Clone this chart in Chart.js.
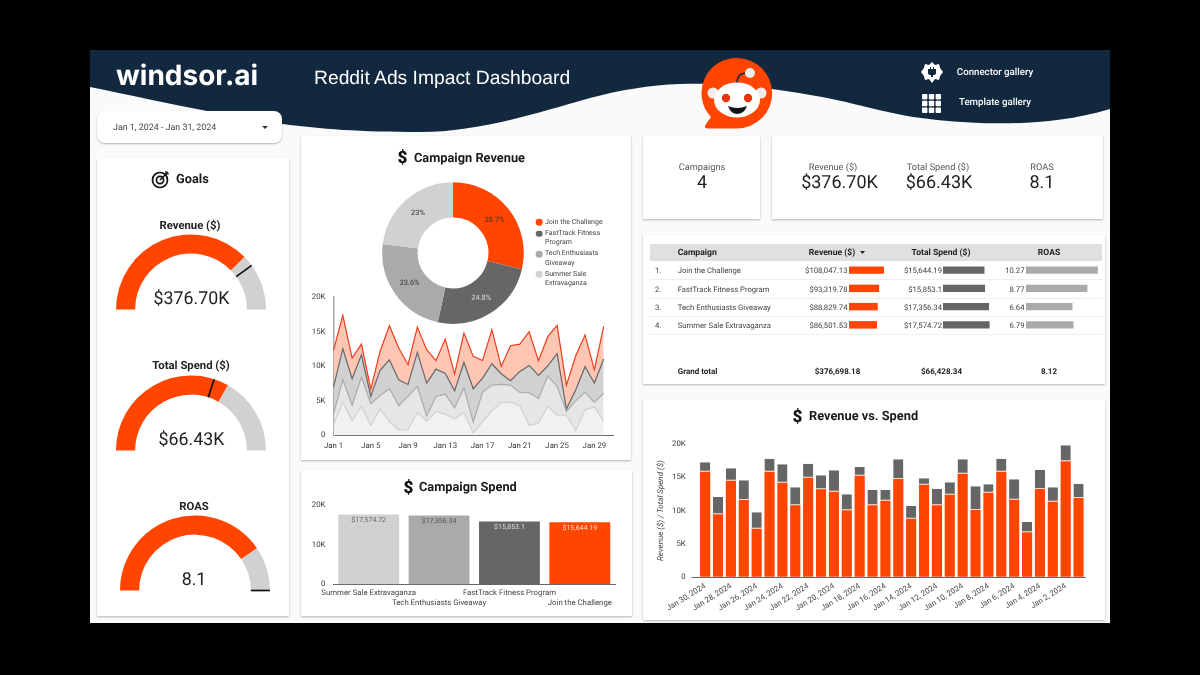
<!DOCTYPE html>
<html>
<head>
<meta charset="utf-8">
<title>Reddit Ads Impact Dashboard</title>
<script src="https://cdn.jsdelivr.net/npm/chart.js@4/dist/chart.umd.min.js"></script>
<style>
  html, body { margin: 0; padding: 0; width: 1200px; height: 675px; background: #000; overflow: hidden; font-family: Roboto, sans-serif; text-rendering: geometricPrecision; }
  #dash { position: absolute; left: 90px; top: 50px; width: 1020px; height: 573px; background: #fafafa; overflow: hidden; }
  #wave { position: absolute; left: 0; top: 0; }
  .layer { position: absolute; left: 0; top: 0; width: 1200px; height: 675px; will-change: transform; }
  .card { position: absolute; background: #fff; box-shadow: 0 1px 2px rgba(0,0,0,.28); }
  canvas { position: absolute; }
  .t { position: absolute; white-space: nowrap; color: #222; transform: translate(-50%, calc(-50% + .7px)); line-height: 1; }
  .l { transform: translate(0, calc(-50% + .7px)); }
  .r { transform: translate(-100%, calc(-50% + .7px)); }
  .title { font-size: 12.8px; font-weight: 700; color: #1a1a1a; }
  .dollar { font-size: 17px; font-weight: 900; color: #111; }
  .kpil { font-size: 9.2px; color: #555; }
  .kpiv { font-size: 18px; color: #222; }
  .gl { font-size: 11.3px; font-weight: 700; color: #222; }
  .gv { font-size: 17.8px; color: #222; }
  .cell { font-size: 7.7px; color: #444; }
  .head { font-size: 8.6px; font-weight: 700; color: #222; }
  .total { font-size: 8px; font-weight: 700; color: #222; }
  .rowline { position: absolute; left: 650px; width: 452px; height: 1px; background: #eee; }
  .dot { position: absolute; width: 6.7px; height: 6.7px; border-radius: 50%; transform: translate(-50%, -50%); }
  .leg { font-size: 7px; color: #444; line-height: 9.2px; white-space: normal; transform: translate(0, 0); width: 70px; }
</style>
</head>
<body>
<div id="dash">
  <svg id="wave" width="1020" height="100" viewBox="90 50 1020 100">
    <path fill="#12283f" d="M90,50 H1110 V109 C1060,124 1010,124 980,123 C955,122 935,120 913,117 C890,113 870,108 846,102 C825,97 800,93 772,89 C745,85 715,83 680,84 C650,85 620,90 590,98 C540,112 480,132 420,132 C360,132 320,129 283,124 C260,121 240,116 207,111 C170,104 130,95 90,87 Z"/>
  </svg>
</div>
<div class="layer" id="page">
  <!-- header -->
  <div class="t l" style="left:116px;top:73.5px;font:700 28px Inter,sans-serif;color:#fff">windsor.ai</div>
  <div class="t l" style="left:314px;top:77.5px;font:19.3px 'Liberation Sans',sans-serif;color:#fff">Reddit Ads Impact Dashboard</div>
  <svg style="position:absolute;left:695px;top:52px" width="85" height="82" viewBox="695 52 85 82">
    <path fill="#ff4500" d="M737,58 A35,35 0 0 1 737,128.4 H708 Q703,128.4 706,124 L711,117 A35,35 0 0 1 737,58 Z"/>
    <path fill="none" stroke="#12283f" stroke-width="1.4" d="M737,83 C737,76 741,73 747,73"/>
    <circle cx="750" cy="73" r="5" fill="#f4ece8"/>
    <circle cx="713" cy="93" r="5.5" fill="#f4ece8"/>
    <circle cx="761" cy="93" r="5.5" fill="#f4ece8"/>
    <ellipse cx="737" cy="100" rx="23" ry="17.5" fill="#fff"/>
    <circle cx="726" cy="98" r="4.2" fill="#e8340a"/>
    <circle cx="748" cy="98" r="4.2" fill="#e8340a"/>
    <path fill="#12141a" d="M728,106 Q737,110 747,106 Q744,114 737,114 Q731,114 728,106 Z"/>
  </svg>
  <svg style="position:absolute;left:920px;top:62px" width="24" height="22" viewBox="0 0 24 22">
    <path fill="#fff" d="M12,0 L15,3 L19,2 L20,6 L23,10 L20,14 L19,18 L15,17 L12,21 L9,17 L5,18 L4,14 L1,10 L4,6 L5,2 L9,3 Z"/>
    <path fill="#12283f" d="M8,7 H10 V5 H11 V7 H13 V5 H14 V7 H16 V11 Q16,13 13,13 V15 H11 V13 Q8,13 8,11 Z"/>
  </svg>
  <svg style="position:absolute;left:922px;top:94px" width="19" height="19" viewBox="0 0 19 19" fill="#fff">
    <rect x="0" y="0" width="5.4" height="5.4" rx=".8"/><rect x="6.8" y="0" width="5.4" height="5.4" rx=".8"/><rect x="13.6" y="0" width="5.4" height="5.4" rx=".8"/>
    <rect x="0" y="6.8" width="5.4" height="5.4" rx=".8"/><rect x="6.8" y="6.8" width="5.4" height="5.4" rx=".8"/><rect x="13.6" y="6.8" width="5.4" height="5.4" rx=".8"/>
    <rect x="0" y="13.6" width="5.4" height="5.4" rx=".8"/><rect x="6.8" y="13.6" width="5.4" height="5.4" rx=".8"/><rect x="13.6" y="13.6" width="5.4" height="5.4" rx=".8"/>
  </svg>
  <div class="t" style="left:995px;top:72px;font-size:9.7px;font-weight:500;color:#fff">Connector gallery</div>
  <div class="t" style="left:995px;top:102px;font-size:9.7px;font-weight:500;color:#fff">Template gallery</div>

  <!-- cards -->
  <div class="card" style="left:97px;top:111px;width:185px;height:32px;border-radius:8px"></div>
  <div class="card" style="left:97px;top:158px;width:192px;height:458px"></div>
  <div class="card" style="left:301px;top:136px;width:330px;height:324px"></div>
  <div class="card" style="left:301px;top:470px;width:331px;height:146px"></div>
  <div class="card" style="left:643px;top:136px;width:117px;height:83px"></div>
  <div class="card" style="left:772px;top:136px;width:331px;height:83px"></div>
  <div class="card" style="left:643px;top:235px;width:462px;height:149px"></div>
  <div class="card" style="left:643px;top:399px;width:462px;height:221px"></div>

  <div class="t l" style="left:113px;top:127.5px;font-size:8.9px;color:#444">Jan 1, 2024 - Jan 31, 2024</div>
  <svg style="position:absolute;left:262px;top:126px" width="6" height="4"><path d="M0,0 H6 L3,3 Z" fill="#333"/></svg>

  <!-- goals column -->
  <svg style="position:absolute;left:151px;top:170px" width="19" height="19" viewBox="0 0 19 19" fill="none" stroke="#111" stroke-width="1.7">
    <circle cx="9" cy="10" r="7.5"/><circle cx="9" cy="10" r="3.6"/><path d="M9,10 L17,2" stroke-width="1.6"/><path d="M15,1 L15,4 L18,4" stroke-width="1.2"/>
  </svg>
  <div class="t l title" style="left:176px;top:179.5px">Goals</div>
  <div class="t gl" style="left:190px;top:224.5px">Revenue ($)</div>
  <div class="t gl" style="left:191px;top:365px">Total Spend ($)</div>
  <div class="t gl" style="left:194px;top:505.5px">ROAS</div>
  <div class="t gv" style="left:191.5px;top:298px">$376.70K</div>
  <div class="t gv" style="left:191.5px;top:439px">$66.43K</div>
  <div class="t gv" style="left:194px;top:579px">8.1</div>
  <canvas id="gauge0" width="160" height="84" style="left:111px;top:230px"></canvas>
  <canvas id="gauge1" width="160" height="84" style="left:111px;top:371px"></canvas>
  <canvas id="gauge2" width="160" height="84" style="left:115px;top:511px"></canvas>

  <!-- campaign revenue -->
  <div class="t dollar" style="left:402.5px;top:158px">$</div>
  <div class="t l title" style="left:414px;top:158.5px">Campaign Revenue</div>
  <canvas id="pie" width="146" height="146" style="left:380px;top:180px"></canvas>
  <div id="legend"></div>
  <canvas id="area" width="330" height="170" style="left:301px;top:285px"></canvas>

  <!-- campaign spend -->
  <div class="t dollar" style="left:408.5px;top:488px">$</div>
  <div class="t l title" style="left:419px;top:487.5px">Campaign Spend</div>
  <canvas id="spend" width="330" height="146" style="left:301px;top:470px"></canvas>

  <!-- kpis -->
  <div class="t kpil" style="left:702px;top:166.5px">Campaigns</div>
  <div class="t kpiv" style="left:702px;top:182px">4</div>
  <div class="t kpil" style="left:833px;top:166.5px">Revenue ($)</div>
  <div class="t kpiv" style="left:839.5px;top:182px">$376.70K</div>
  <div class="t kpil" style="left:938px;top:166.5px">Total Spend ($)</div>
  <div class="t kpiv" style="left:939px;top:182px">$66.43K</div>
  <div class="t kpil" style="left:1042px;top:166.5px">ROAS</div>
  <div class="t kpiv" style="left:1042px;top:182px">8.1</div>

  <!-- table -->
  <div style="position:absolute;left:650px;top:244px;width:452px;height:17px;background:#e0e0e0"></div>
  <div class="t l head" style="left:677.7px;top:252.5px">Campaign</div>
  <div class="t head" style="left:832px;top:252.5px">Revenue ($)</div>
  <svg style="position:absolute;left:860px;top:251px" width="5" height="3"><path d="M0,0 H5 L2.5,3 Z" fill="#222"/></svg>
  <div class="t head" style="left:941px;top:252.5px">Total Spend ($)</div>
  <div class="t head" style="left:1049px;top:252.5px">ROAS</div>
  <div id="rows"></div>
  <div class="t l total" style="left:677.7px;top:370.5px">Grand total</div>
  <div class="t total" style="left:837.5px;top:370.5px">$376,698.18</div>
  <div class="t total" style="left:941.5px;top:370.5px">$66,428.34</div>
  <div class="t total" style="left:1049px;top:370.5px">8.12</div>
  <canvas id="tblRev" width="36" height="73" style="left:849px;top:261px"></canvas>
  <canvas id="tblSpend" width="48" height="73" style="left:943px;top:261px"></canvas>
  <canvas id="tblRoas" width="74" height="73" style="left:1026px;top:261px"></canvas>

  <!-- revenue vs spend -->
  <div class="t dollar" style="left:797.5px;top:417px">$</div>
  <div class="t l title" style="left:809px;top:417px">Revenue vs. Spend</div>
  <canvas id="stack" width="460" height="190" style="left:645px;top:430px"></canvas>
</div>

<script>
// campaign totals
const campaignNames = ["Join the Challenge", "FastTrack Fitness Program", "Tech Enthusiasts Giveaway", "Summer Sale Extravaganza"];
const revenueTotals = [108047.13, 93319.78, 88829.74, 86501.53];
const spendTotals = [15644.19, 15853.1, 17356.34, 17574.72];
const roasValues = [10.27, 8.77, 6.64, 6.79];
const campaignColors = ["#ff4500", "#666666", "#aaaaaa", "#d1d1d1"];

// gauges: revenue, total spend, roas
const gaugeValues = [376.7, 66.43, 8.1];
const gaugeTargets = [400, 60, 10];
const gaugeMaxes = [500, 100, 10];

// daily revenue per campaign, Jan 1 - Jan 30
const dayLabels = ["Jan 1","Jan 2","Jan 3","Jan 4","Jan 5","Jan 6","Jan 7","Jan 8","Jan 9","Jan 10","Jan 11","Jan 12","Jan 13","Jan 14","Jan 15","Jan 16","Jan 17","Jan 18","Jan 19","Jan 20","Jan 21","Jan 22","Jan 23","Jan 24","Jan 25","Jan 26","Jan 27","Jan 28","Jan 29","Jan 30","Jan 31"];
const summerDaily = [1540,4820,2170,4190,1450,3810,2020,820,820,3330,2020,3470,3080,2410,3330,340,2020,3570,4770,4820,4290,1450,1780,4190,2990,2890,720,3710,4140,2120];
const techDaily = [1540,3230,2170,4240,3130,1970,4730,3520,4820,3750,820,2170,2900,1590,3510,1590,4250,3710,2600,2460,1930,4720,3570,4390,4090,580,4290,2510,630,4000];
const fastTrackDaily = [3910,4480,3850,3230,1060,3620,4190,3710,1730,4920,4730,3950,2980,2460,3710,4820,2020,3080,1550,620,3030,3950,3320,1490,4730,340,1590,3710,2800,4920];
const joinDaily = [5300,4820,2990,1540,1060,2740,4920,4580,2850,3660,4820,1210,4970,2410,4250,4670,2550,4920,1060,5060,3950,4870,2130,4200,4090,3470,4920,4580,1920,4720];

// revenue vs spend per day, newest first
const stackLabels = ["Jan 30, 2024","Jan 29, 2024","Jan 28, 2024","Jan 27, 2024","Jan 26, 2024","Jan 25, 2024","Jan 24, 2024","Jan 23, 2024","Jan 22, 2024","Jan 21, 2024","Jan 20, 2024","Jan 19, 2024","Jan 18, 2024","Jan 17, 2024","Jan 16, 2024","Jan 15, 2024","Jan 14, 2024","Jan 13, 2024","Jan 12, 2024","Jan 11, 2024","Jan 10, 2024","Jan 9, 2024","Jan 8, 2024","Jan 7, 2024","Jan 6, 2024","Jan 5, 2024","Jan 4, 2024","Jan 3, 2024","Jan 2, 2024","Jan 1, 2024"];
const dailyRevenue = [15850,9450,14500,11600,7300,15850,14200,10800,14950,13200,12850,10050,15250,10800,11500,14750,8800,13900,10800,12400,15550,10100,12700,15850,11650,6750,13250,11350,17400,11900];
const dailySpend = [1400,2600,1850,2950,2450,1950,2750,2700,2100,2100,3200,2400,1300,2300,1600,2950,1900,950,2500,1850,2150,3550,1250,1950,3050,1550,2900,2150,2400,2150];

const tickFont = { family: "Roboto", size: 7.8, lineHeight: 1.3 };
const kLabel = (v) => (v === 0 ? "0" : v / 1000 + "K");

// canvas text should space like the html text does
Chart.register({
  id: "preciseText",
  beforeDraw(chart) { chart.ctx.textRendering = "geometricPrecision"; },
});

// legend and table rows, built from the arrays
const legendTops = [217.7, 229, 249.4, 269.7];
document.getElementById("legend").innerHTML = campaignNames.map((name, i) =>
  `<div class="dot" style="left:539.3px;top:${legendTops[i] + 4.6}px;background:${campaignColors[i]}"></div>` +
  `<div class="t leg" style="left:545px;top:${legendTops[i]}px">${name}</div>`
).join("");

document.getElementById("rows").innerHTML = campaignNames.map((name, i) => {
  const y = 270.2 + i * 18.3;
  return `<div class="t l cell" style="left:655px;top:${y}px">${i + 1}.</div>` +
    `<div class="t l cell" style="left:677.7px;top:${y}px">${name}</div>` +
    `<div class="t r cell" style="left:847.5px;top:${y}px">$${revenueTotals[i].toLocaleString("en-US", { maximumFractionDigits: 2 })}</div>` +
    `<div class="t r cell" style="left:942px;top:${y}px">$${spendTotals[i].toLocaleString("en-US", { maximumFractionDigits: 2 })}</div>` +
    `<div class="t r cell" style="left:1024.5px;top:${y}px">${roasValues[i]}</div>` +
    `<div class="rowline" style="top:${y + 9}px"></div>`;
}).join("");

// gauges
gaugeValues.forEach((value, i) => {
  const targetTick = {
    id: "targetTick",
    afterDraw(chart) {
      const arc = chart.getDatasetMeta(0).data[0];
      const angle = Math.PI + Math.PI * (gaugeTargets[i] / gaugeMaxes[i]);
      const ctx = chart.ctx;
      ctx.save();
      ctx.strokeStyle = "#111";
      ctx.lineWidth = 1.7;
      ctx.beginPath();
      ctx.moveTo(arc.x + Math.cos(angle) * arc.innerRadius, arc.y + Math.sin(angle) * arc.innerRadius);
      ctx.lineTo(arc.x + Math.cos(angle) * arc.outerRadius, arc.y + Math.sin(angle) * arc.outerRadius);
      ctx.stroke();
      ctx.restore();
    },
  };
  new Chart(document.getElementById("gauge" + i), {
    type: "doughnut",
    data: {
      datasets: [{ data: [value, gaugeMaxes[i] - value], backgroundColor: ["#ff4500", "#d1d1d1"], borderWidth: 0 }],
    },
    options: {
      responsive: false,
      animation: false,
      rotation: -90,
      circumference: 180,
      cutout: "74.5%",
      layout: { padding: { left: 5, right: 5, top: 4, bottom: 4 } },
      plugins: { legend: { display: false }, tooltip: { enabled: false } },
    },
    plugins: [targetTick],
  });
});

// revenue share donut
const sliceLabels = {
  id: "sliceLabels",
  afterDraw(chart) {
    const total = revenueTotals.reduce((a, b) => a + b, 0);
    const ctx = chart.ctx;
    ctx.save();
    ctx.font = "7.4px Roboto";
    ctx.textAlign = "center";
    ctx.textBaseline = "middle";
    chart.getDatasetMeta(0).data.forEach((arc, i) => {
      const p = arc.getCenterPoint();
      const pct = (revenueTotals[i] / total * 100).toFixed(1).replace(".0", "");
      ctx.fillStyle = i === 1 ? "#ddd" : "#333";
      ctx.fillText(pct + "%", p.x, p.y);
    });
    ctx.restore();
  },
};
new Chart(document.getElementById("pie"), {
  type: "doughnut",
  data: {
    labels: campaignNames,
    datasets: [{ data: revenueTotals, backgroundColor: campaignColors, borderWidth: 0 }],
  },
  options: {
    responsive: false,
    animation: false,
    cutout: "50%",
    layout: { padding: 2.2 },
    plugins: { legend: { display: false }, tooltip: { enabled: false } },
  },
  plugins: [sliceLabels],
});

// stacked area, bottom series first
const areaSeries = [
  { data: summerDaily, line: "#d1d1d1", fill: "#f1f1f1", target: "origin" },
  { data: techDaily, line: "#aaaaaa", fill: "#e6e6e6", target: "-1" },
  { data: fastTrackDaily, line: "#666666", fill: "#d1d1d1", target: "-1" },
  { data: joinDaily, line: "#ee3c1c", fill: "#ffc7b3", target: "-1" },
];
new Chart(document.getElementById("area"), {
  type: "line",
  data: {
    labels: dayLabels,
    datasets: areaSeries.map((s) => ({
      data: s.data,
      borderColor: s.line,
      backgroundColor: s.fill,
      fill: s.target,
      borderWidth: 1.2,
      pointRadius: 0,
      tension: 0,
    })),
  },
  options: {
    responsive: false,
    animation: false,
    layout: { padding: { top: 12, right: 18 } },
    plugins: { legend: { display: false }, tooltip: { enabled: false } },
    scales: {
      x: {
        stacked: true,
        offset: false,
        grid: { display: false, drawTicks: false },
        border: { color: "#666" },
        afterFit: (s) => { s.height = 19.5; },
        ticks: {
          font: tickFont, color: "#333", autoSkip: false, maxRotation: 0, padding: 5,
          callback(v, i) { return i % 4 === 0 ? dayLabels[i] : ""; },
        },
      },
      y: {
        stacked: true,
        min: 0,
        max: 20000,
        grid: { display: false },
        border: { color: "#aaa", width: 1.5 },
        afterFit: (s) => { s.width = 32.5; },
        ticks: { font: tickFont, color: "#333", stepSize: 5000, padding: 0, callback: kLabel },
      },
    },
  },
});

// campaign spend bars
const spendBarLabels = campaignNames.slice().reverse();
const spendBarValues = spendTotals.slice().reverse();
const spendBarColors = campaignColors.slice().reverse();
const barValueLabels = {
  id: "barValueLabels",
  afterDraw(chart) {
    const inkColors = ["#666", "#555", "#ddd", "#ffe2d6"];
    const ctx = chart.ctx;
    ctx.save();
    ctx.font = "7px Roboto";
    ctx.textAlign = "center";
    ctx.textBaseline = "middle";
    chart.getDatasetMeta(0).data.forEach((bar, i) => {
      ctx.fillStyle = inkColors[i];
      ctx.fillText("$" + spendBarValues[i].toLocaleString("en-US", { maximumFractionDigits: 2 }), bar.x, bar.y + 5.5);
    });
    ctx.restore();
  },
};
new Chart(document.getElementById("spend"), {
  type: "bar",
  data: {
    labels: spendBarLabels,
    datasets: [{ data: spendBarValues, backgroundColor: spendBarColors, barPercentage: 0.865, categoryPercentage: 1 }],
  },
  options: {
    responsive: false,
    animation: false,
    layout: { padding: { top: 35, right: 16 } },
    plugins: { legend: { display: false }, tooltip: { enabled: false } },
    scales: {
      x: {
        grid: { display: false, drawTicks: false },
        border: { color: "#666" },
        afterFit: (s) => { s.height = 31.7; },
        ticks: {
          font: tickFont, color: "#444", autoSkip: false, maxRotation: 0, padding: 4,
          callback(v, i) { return i % 2 === 0 ? spendBarLabels[i] : ["", spendBarLabels[i]]; },
        },
      },
      y: {
        min: 0,
        max: 20000,
        grid: { display: false },
        border: { display: false },
        afterFit: (s) => { s.width = 32.5; },
        ticks: { font: tickFont, color: "#333", stepSize: 10000, padding: 0, callback: kLabel },
      },
    },
  },
  plugins: [barValueLabels],
});

// small bars inside the table columns
function tableBars(id, values, color) {
  new Chart(document.getElementById(id), {
    type: "bar",
    data: {
      labels: campaignNames,
      datasets: [{ data: values, backgroundColor: color, barPercentage: 0.41, categoryPercentage: 1 }],
    },
    options: {
      indexAxis: "y",
      responsive: false,
      animation: false,
      plugins: { legend: { display: false }, tooltip: { enabled: false } },
      scales: {
        x: { display: false, min: 0, max: Math.max(...values) * 1.03 },
        y: { display: false },
      },
    },
  });
}
tableBars("tblRev", revenueTotals, "#ff4500");
tableBars("tblSpend", spendTotals, "#666666");
tableBars("tblRoas", roasValues, "#aaaaaa");

// revenue vs spend stacked bars
new Chart(document.getElementById("stack"), {
  type: "bar",
  data: {
    labels: stackLabels,
    datasets: [
      { label: "Revenue ($)", data: dailyRevenue, backgroundColor: "#ff4500", barPercentage: 0.79, categoryPercentage: 1 },
      {
        label: "Total Spend ($)", data: dailySpend, backgroundColor: "#666666", barPercentage: 0.79, categoryPercentage: 1,
        borderColor: "#ffd9cc", borderWidth: { bottom: 1 }, borderSkipped: false,
      },
    ],
  },
  options: {
    responsive: false,
    animation: false,
    layout: { padding: { top: 14, right: 20 } },
    plugins: { legend: { display: false }, tooltip: { enabled: false } },
    scales: {
      x: {
        stacked: true,
        grid: { display: false, drawTicks: false },
        border: { color: "#666" },
        afterFit: (s) => { s.height = 42.7; },
        ticks: {
          font: tickFont, color: "#444", autoSkip: false, minRotation: 32, maxRotation: 32, padding: 4,
          callback(v, i) { return i % 2 === 0 ? stackLabels[i] : ""; },
        },
      },
      y: {
        stacked: true,
        min: 0,
        max: 20000,
        title: { display: true, text: "Revenue ($) / Total Spend ($)", font: { family: "Roboto", size: 8, style: "italic" }, color: "#444", padding: { top: 11, bottom: 0 } },
        grid: {
          drawOnChartArea: false,
          tickLength: 7,
          color: (c) => (c.tick && c.tick.value === 0 ? "#666" : "transparent"),
        },
        border: { display: false },
        afterFit: (s) => { s.width = 53.7; },
        ticks: { font: tickFont, color: "#333", stepSize: 5000, padding: 6, callback: kLabel },
      },
    },
  },
});
</script>
</body>
</html>
